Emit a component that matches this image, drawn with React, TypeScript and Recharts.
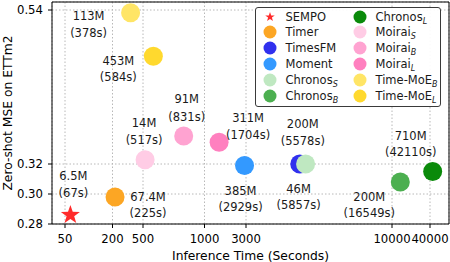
import { CartesianGrid, Label, ReferenceLine, Scatter, ScatterChart, XAxis, YAxis } from "recharts";

const models = [
  "SEMPO",
  "Timer",
  "TimesFM",
  "Moment",
  "Chronos_S",
  "Chronos_B",
  "Chronos_L",
  "Moirai_S",
  "Moirai_B",
  "Moirai_L",
  "Time-MoE_B",
  "Time-MoE_L",
];
const inferenceSeconds = [67, 225, 5578, 2929, 5857, 16549, 42110, 517, 831, 1704, 378, 584];
const zeroShotMse = [0.286, 0.298, 0.32, 0.319, 0.32, 0.308, 0.315, 0.326, 0.36, 0.351, 0.536, 0.474];
const paramLabels = ["6.5M", "67.4M", "200M", "385M", "46M", "200M", "710M", "14M", "91M", "311M", "113M", "453M"];

const xTickValues = [50, 200, 500, 1000, 3000, 10000, 40000];
const yTickValues = [0.28, 0.3, 0.32, 0.54];

// the source axes are stretched piecewise between ticks, so warp values through tick anchors
const xTickSlots = [13, 60.5, 91, 152.5, 194, 340, 378];
const xSpan = 397;
const yTickSlots = [0, 30, 60, 214];
const ySpan = 222;

const modelColors = [
  "#ff2b2b",
  "#fca624",
  "#3030ee",
  "#3399ff",
  "#bfe8c1",
  "#4caf50",
  "#0a8a0a",
  "#ffcce5",
  "#ffa3d1",
  "#ff80bf",
  "#ffe566",
  "#ffd92e",
];

// label placement around each marker: [dx, dy line 1, dy line 2]
const labelOffsets: Record<string, [number, number, number]> = {
  SEMPO: [3, -39, -22],
  Timer: [33, 0, 16],
  TimesFM: [3, -40, -23],
  Moment: [-4, 25, 41],
  Chronos_S: [-7, 25, 41],
  Chronos_B: [-31, 15, 31],
  Chronos_L: [-22, -36, -20],
  Moirai_S: [-1, -37, -20],
  Moirai_B: [3, -37, -19],
  Moirai_L: [29, -24, -7],
  "Time-MoE_B": [-42, 3, 20],
  "Time-MoE_L": [-35, 5, 21],
};

const font = "'DejaVu Sans', sans-serif";

function warp(value: number, values: number[], slots: number[]) {
  let i = 0;
  while (i < values.length - 2 && value > values[i + 1]) i++;
  const t = (value - values[i]) / (values[i + 1] - values[i]);
  return slots[i] + t * (slots[i + 1] - slots[i]);
}

const rows = models.map((name, i) => ({
  name,
  u: warp(inferenceSeconds[i], xTickValues, xTickSlots),
  v: warp(zeroShotMse[i], yTickValues, yTickSlots),
  label: [paramLabels[i], `(${inferenceSeconds[i]}s)`],
}));

function starPoints(cx: number, cy: number, outer: number, inner: number) {
  const pts: string[] = [];
  for (let k = 0; k < 10; k++) {
    const r = k % 2 === 0 ? outer : inner;
    const a = -Math.PI / 2 + (k * Math.PI) / 5;
    pts.push(`${cx + r * Math.cos(a)},${cy + r * Math.sin(a)}`);
  }
  return pts.join(" ");
}

function renderPoint(props: any) {
  const { cx, cy, payload } = props;
  const idx = models.indexOf(payload.name);
  const color = modelColors[idx];
  const [dx, dy1, dy2] = labelOffsets[payload.name];
  return (
    <g>
      {payload.name === "SEMPO" ? (
        <polygon points={starPoints(cx, cy, 10, 4)} fill={color} />
      ) : (
        <circle cx={cx} cy={cy} r={9.5} fill={color} />
      )}
      <text x={cx + dx} y={cy + dy1} textAnchor="middle" dominantBaseline="central" fontSize={11.5} fill="#1a1a1a">
        {payload.label[0]}
      </text>
      <text x={cx + dx} y={cy + dy2} textAnchor="middle" dominantBaseline="central" fontSize={11.5} fill="#1a1a1a">
        {payload.label[1]}
      </text>
    </g>
  );
}

function ModelName({ name }: { name: string }) {
  const [base, sub] = name.split("_");
  return (
    <span>
      {base}
      {sub && (
        <span style={{ fontSize: 8, fontStyle: "italic", position: "relative", top: 3 }}>{sub}</span>
      )}
    </span>
  );
}

function LegendBox() {
  return (
    <div
      style={{
        position: "absolute",
        left: 255,
        top: 7,
        width: 184,
        height: 98,
        border: "1.5px solid #3a3a3a",
        borderRadius: 3,
        background: "rgba(255,255,255,0.92)",
      }}
    >
      {models.map((name, i) => {
        const col = i < 6 ? 0 : 1;
        const row = i % 6;
        const markerX = col === 0 ? 13.5 : 103.5;
        const textX = col === 0 ? 29.5 : 119.5;
        const centerY = 8.5 + row * 15.8;
        return (
          <div key={name}>
            <svg
              width={14}
              height={14}
              style={{ position: "absolute", left: markerX - 7, top: centerY - 7 }}
            >
              {name === "SEMPO" ? (
                <polygon points={starPoints(7, 7, 5, 2)} fill={modelColors[i]} />
              ) : (
                <circle cx={7} cy={7} r={6.5} fill={modelColors[i]} />
              )}
            </svg>
            <div
              style={{
                position: "absolute",
                left: textX,
                top: centerY - 8,
                height: 16,
                lineHeight: "16px",
                fontSize: 11.5,
                color: "#1a1a1a",
                whiteSpace: "nowrap",
              }}
            >
              <ModelName name={name} />
            </div>
          </div>
        );
      })}
    </div>
  );
}

export default function App() {
  const xTicks = xTickValues.map((v) => warp(v, xTickValues, xTickSlots));
  const yTicks = yTickValues.map((v) => warp(v, yTickValues, yTickSlots));
  return (
    <div style={{ position: "absolute", left: 0, top: 0, width: 450, height: 262, background: "#fff", fontFamily: font }}>
      <ScatterChart width={450} height={262} margin={{ top: 2, right: 1, bottom: 0, left: 0 }}>
        <CartesianGrid stroke="#b8b8b8" strokeDasharray="1.5 2" />
        <XAxis
          type="number"
          dataKey="u"
          domain={[0, xSpan]}
          ticks={xTicks}
          interval={0}
          height={38}
          tickSize={4}
          tickMargin={7}
          stroke="#000"
          tick={{ fontSize: 11.7, fill: "#000" }}
          tickFormatter={(_v: number, i: number) => String(xTickValues[i])}
          allowDataOverflow
        >
          <Label value="Inference Time (Seconds)" position="insideBottom" offset={2} fontSize={12.3} fill="#000" />
        </XAxis>
        <YAxis
          type="number"
          dataKey="v"
          domain={[0, ySpan]}
          ticks={yTicks}
          interval={0}
          width={52}
          tickSize={4}
          tickMargin={5}
          stroke="#000"
          tick={{ fontSize: 11.7, fill: "#000" }}
          tickFormatter={(_v: number, i: number) => yTickValues[i].toFixed(2)}
          allowDataOverflow
        >
          <Label
            content={() => (
              <text transform="translate(12,113) rotate(-90)" textAnchor="middle" fontSize={12.3} fill="#000">
                Zero-shot MSE on ETTm2
              </text>
            )}
          />
        </YAxis>
        <ReferenceLine x={xSpan} stroke="#000" />
        <ReferenceLine y={ySpan} stroke="#000" />
        {rows.map((row) => (
          <Scatter key={row.name} name={row.name} data={[row]} shape={renderPoint} isAnimationActive={false} />
        ))}
      </ScatterChart>
      <LegendBox />
    </div>
  );
}
